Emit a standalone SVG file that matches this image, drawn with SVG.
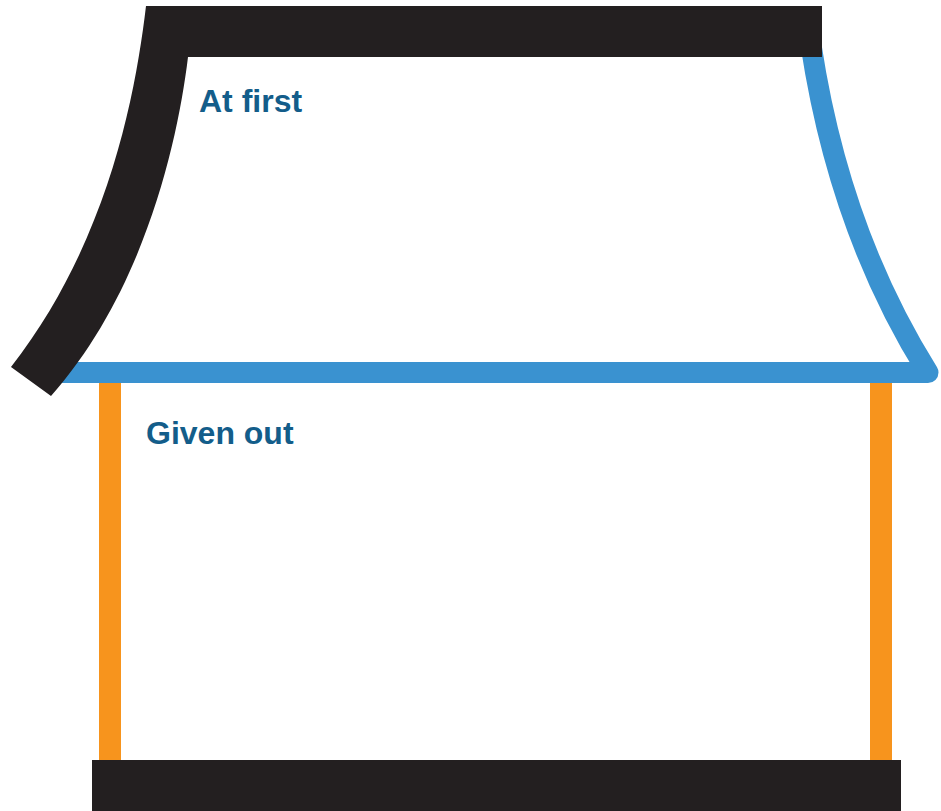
<svg xmlns="http://www.w3.org/2000/svg" width="941" height="811" viewBox="0 0 941 811">
  <style>
    .lbl { font-family: "Liberation Sans", Arial, sans-serif; font-weight: bold; font-size: 32px; fill: #135d8a; }
    .post { fill: #f7941d; }
    .dark { fill: #231f20; }
    .blue { fill: none; stroke: #3a92d0; stroke-width: 21; stroke-linejoin: round; stroke-linecap: butt; }
  </style>
  <rect width="941" height="811" fill="#ffffff"/>
  <g id="posts">
    <rect class="post" x="99" y="380" width="22" height="384"/>
    <rect class="post" x="870" y="380" width="22" height="384"/>
  </g>
  <g id="base">
    <rect class="dark" x="92" y="760" width="809" height="51"/>
  </g>
  <g id="blue-roof">
    <path class="blue" d="M50,372.5 L928,372.5 C870,280 830,170 811,45"/>
  </g>
  <g id="black-roof">
    <path class="dark" d="M146,6 L822,6 L822,57 L188,57 C178,140 145,290 51,396 L11,367 C110,240 136,90 146,6 Z"/>
  </g>
  <g id="label-at-first">
    <text class="lbl" x="199" y="112">At first</text>
  </g>
  <g id="label-given-out">
    <text class="lbl" x="146" y="444">Given out</text>
  </g>
</svg>
